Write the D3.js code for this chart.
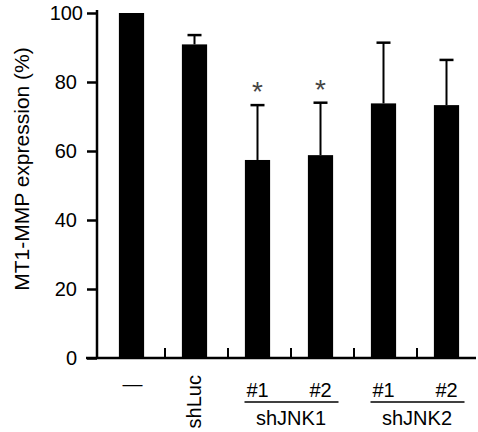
<!DOCTYPE html>
<html>
<head>
<meta charset="utf-8">
<script src="https://cdn.jsdelivr.net/npm/d3@7"></script>
<style>
  body { margin: 0; background: #fff; }
  text { font-family: "Liberation Sans", Arial, sans-serif; }
</style>
</head>
<body>
<div id="chart"></div>
<script>
// bar data
var groups = ["ctrl", "shLuc", "jnk1_1", "jnk1_2", "jnk2_1", "jnk2_2"];
var means = [100, 90.9, 57.4, 58.8, 73.8, 73.3];
var errTop = [100, 93.6, 73.3, 74.0, 91.4, 86.4];
var starred = [false, false, true, true, false, false];
var yTicks = [0, 20, 40, 60, 80, 100];
var subLabels = ["#1", "#2", "#1", "#2"];
var bracketLabels = ["shJNK1", "shJNK2"];

var W = 478, H = 432;
var svg = d3.select("#chart").append("svg")
    .attr("width", W)
    .attr("height", H);

var x = d3.scaleBand()
    .domain(groups)
    .range([100, 478])
    .paddingInner(0.6)
    .paddingOuter(0.3);

var y = d3.scaleLinear()
    .domain([0, 100])
    .range([358, 13]);

// bars
svg.selectAll("rect.bar")
  .data(groups)
  .enter().append("rect")
    .attr("class", "bar")
    .attr("x", function(d) { return x(d); })
    .attr("y", function(d, i) { return y(means[i]); })
    .attr("width", x.bandwidth())
    .attr("height", function(d, i) { return y(0) - y(means[i]); })
    .attr("fill", "#000");

// error bars (upper only)
groups.forEach(function(g, i) {
  if (errTop[i] <= means[i]) return;
  var cx = x(g) + x.bandwidth() / 2;
  svg.append("line")
    .attr("x1", cx).attr("x2", cx)
    .attr("y1", y(means[i])).attr("y2", y(errTop[i]))
    .attr("stroke", "#000").attr("stroke-width", 2);
  svg.append("line")
    .attr("x1", cx - 7).attr("x2", cx + 7)
    .attr("y1", y(errTop[i])).attr("y2", y(errTop[i]))
    .attr("stroke", "#000").attr("stroke-width", 2.5);
  if (starred[i]) {
    svg.append("text")
      .attr("x", cx)
      .attr("y", y(errTop[i]) - 4)
      .attr("text-anchor", "middle")
      .attr("font-size", 28)
      .attr("fill", "#444")
      .text("*");
  }
});

// y axis
var yAxis = svg.append("g")
    .attr("transform", "translate(97,0)")
    .call(d3.axisLeft(y).tickValues(yTicks).tickSize(10).tickPadding(10));
yAxis.select(".domain")
    .attr("d", "M0," + (y(100) - 3) + "V" + y(0))
    .attr("stroke-width", 2.5);
yAxis.selectAll(".tick line").attr("stroke-width", 2.5);
yAxis.selectAll(".tick text")
    .attr("font-size", 20)
    .attr("fill", "#000")
    .attr("dx", function(d) { return d === 100 ? 6 : 0; });

// x axis baseline
svg.append("line")
    .attr("x1", 86).attr("x2", 476)
    .attr("y1", y(0)).attr("y2", y(0))
    .attr("stroke", "#000").attr("stroke-width", 2.5);

// small separators between bars
groups.slice(0, -1).forEach(function(g) {
  var sx = x(g) + x.bandwidth() + (x.step() - x.bandwidth()) / 2 + 2;
  svg.append("line")
    .attr("x1", sx).attr("x2", sx)
    .attr("y1", y(0)).attr("y2", y(0) - 10)
    .attr("stroke", "#000").attr("stroke-width", 2);
});

function cxOf(i) { return x(groups[i]) + x.bandwidth() / 2; }

// category labels
svg.append("text")
    .attr("x", cxOf(0) + 1).attr("y", 391)
    .attr("text-anchor", "middle")
    .attr("font-size", 20)
    .text("\u2014");

svg.append("text")
    .attr("transform", "translate(" + (cxOf(1) + 6) + ",375) rotate(-90)")
    .attr("text-anchor", "end")
    .attr("font-size", 20)
    .text("shLuc");

subLabels.forEach(function(s, k) {
  svg.append("text")
    .attr("x", cxOf(k + 2)).attr("y", 397)
    .attr("text-anchor", "middle")
    .attr("font-size", 20)
    .text(s);
});

bracketLabels.forEach(function(s, k) {
  var a = cxOf(2 + k * 2), b = cxOf(3 + k * 2);
  svg.append("line")
    .attr("x1", a - 13).attr("x2", b + 18)
    .attr("y1", 402).attr("y2", 402)
    .attr("stroke", "#000").attr("stroke-width", 1.5);
  svg.append("text")
    .attr("x", (a + b) / 2 + 2).attr("y", 425)
    .attr("text-anchor", "middle")
    .attr("font-size", 20)
    .text(s);
});

// y axis title
svg.append("text")
    .attr("transform", "translate(29,169) rotate(-90)")
    .attr("text-anchor", "middle")
    .attr("font-size", 21)
    .text("MT1-MMP expression (%)");
</script>
</body>
</html>
